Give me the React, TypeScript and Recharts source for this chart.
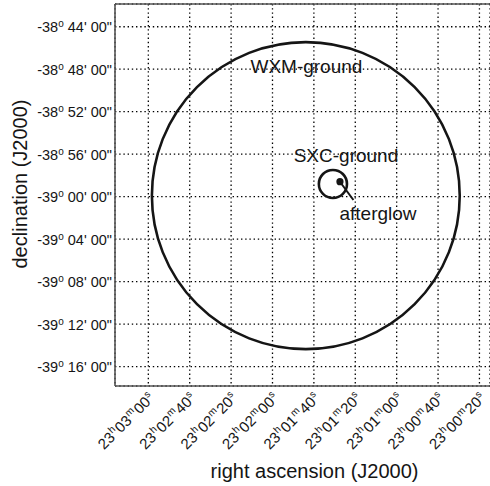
import { ComposedChart, Scatter, XAxis, YAxis, CartesianGrid, ReferenceArea, ReferenceDot, ReferenceLine, Label } from 'recharts';

// x: right ascension, seconds after 23h00m00s; y: declination, arcmin from -39°00'00"
const raTicks = [180, 160, 140, 120, 100, 80, 60, 40, 20];
const decTicks = [16, 12, 8, 4, 0, -4, -8, -12, -16];
const raDomain = [14.9, 196.1];
const decDomain = [-17.82, 18.14];

// error circles (centre and radius in arcmin)
const circleNames = ['WXM-ground', 'SXC-ground'];
const circleRa = [103.9, 90.8];
const circleDec = [0.1, 1.2];
const circleRadius = [14.45, 1.32];

// afterglow position
const afterglowRa = [87.4];
const afterglowDec = [1.41];

const FONT = '"Liberation Sans", Arial, Helvetica, sans-serif';
const INK = '#151515';
const COS_DEC = Math.cos((39 * Math.PI) / 180);

const afterglow = afterglowRa.map((ra, i) => ({ ra, dec: afterglowDec[i] }));

// text annotations, in data units
const labelSpots = [
  { text: 'WXM-ground', ra: 103.6, dec: 12.3 },
  { text: 'SXC-ground', ra: 84.5, dec: 3.92 },
  { text: 'afterglow', ra: 69.0, dec: -1.53 },
];
const leader = [{ x: 87.4, y: 1.41 }, { x: 80.9, y: -0.31 }];

const pad = (n: number) => String(n).padStart(2, '0');

const RaTick = (props: any) => {
  const { x, y, payload } = props;
  const v = payload.value;
  const m = Math.floor(v / 60);
  const s = v % 60;
  return (
    <g transform={`translate(${x + 7},${y + 5}) rotate(-45)`}>
      <text textAnchor="end" fontSize={15} fontFamily={FONT} fill={INK}>
        23<tspan fontSize={10} dy={-6} dx={0.5}>h</tspan>
        <tspan dy={6} dx={1}>{pad(m)}</tspan>
        <tspan fontSize={10} dy={-6} dx={0.5}>m</tspan>
        <tspan dy={6} dx={1}>{pad(s)}</tspan>
        <tspan fontSize={10} dy={-6} dx={0.5}>s</tspan>
      </text>
    </g>
  );
};

const DecTick = (props: any) => {
  const { x, y, payload } = props;
  const total = -39 * 60 + payload.value;
  const sign = total < 0 ? '-' : '';
  const a = Math.abs(total);
  const deg = Math.floor(a / 60);
  const min = a % 60;
  return (
    <text x={x + 5} y={y} dy="0.38em" textAnchor="end" fontSize={14.5} fontFamily={FONT} fill={INK}>
      {sign}{deg}<tspan fontSize={10} dy={-5}>o</tspan>
      <tspan dy={5}> {pad(min)}' 00"</tspan>
    </text>
  );
};

const Ring = (props: any) => {
  const { x, y, width, height } = props;
  const cx = x + width / 2;
  const cy = y + height / 2;
  return (
    <ellipse cx={cx} cy={cy} rx={Math.abs(width) / 2} ry={Math.abs(height) / 2}
      fill="none" stroke={INK} strokeWidth={2.6} />
  );
};

export default function App() {
  return (
    <div style={{ position: 'absolute', left: 0, top: 0, background: '#fff' }}>
      <ComposedChart width={490} height={486} margin={{ top: 4, right: 0, left: 0, bottom: 0 }}>
        <CartesianGrid stroke="#000" strokeDasharray="1.4 2.8" strokeWidth={1.3} />
        <XAxis
          type="number"
          dataKey="ra"
          domain={raDomain}
          reversed
          allowDataOverflow
          ticks={raTicks}
          interval={0}
          height={100}
          tickLine={false}
          axisLine={{ stroke: '#555', strokeWidth: 1.6 }}
          tick={<RaTick />}
        >
          <Label
            content={({ viewBox }: any) => (
              <text x={viewBox.x + viewBox.width / 2 + 12} y={viewBox.y + viewBox.height - 8}
                textAnchor="middle" fontSize={20} fontFamily={FONT} fill={INK}>
                right ascension (J2000)
              </text>
            )}
          />
        </XAxis>
        <YAxis
          type="number"
          dataKey="dec"
          domain={decDomain}
          allowDataOverflow
          ticks={decTicks}
          interval={0}
          width={115}
          tickLine={false}
          axisLine={{ stroke: '#555', strokeWidth: 1.6 }}
          tick={<DecTick />}
        >
          <Label
            content={() => (
              <text x={27} y={184} transform="rotate(-90, 27, 184)"
                textAnchor="middle" fontSize={20} fontFamily={FONT} fill={INK}>
                declination (J2000)
              </text>
            )}
          />
        </YAxis>
        <ReferenceLine y={decDomain[1]} stroke="#555" strokeWidth={1.6} ifOverflow="visible" />
        {circleNames.map((name, i) => (
          <ReferenceArea
            key={name}
            x1={circleRa[i] - (circleRadius[i] * 4) / COS_DEC}
            x2={circleRa[i] + (circleRadius[i] * 4) / COS_DEC}
            y1={circleDec[i] - circleRadius[i]}
            y2={circleDec[i] + circleRadius[i]}
            ifOverflow="visible"
            shape={<Ring />}
          />
        ))}
        <ReferenceLine segment={leader} stroke={INK} strokeWidth={2} ifOverflow="visible" />
        <Scatter
          data={afterglow}
          fill={INK}
          isAnimationActive={false}
          shape={(p: any) => <circle cx={p.cx} cy={p.cy} r={3.6} fill={INK} />}
        />
        {labelSpots.map((l) => (
          <ReferenceDot key={l.text} x={l.ra} y={l.dec} r={0} fill="none" stroke="none" ifOverflow="visible"
            label={{ value: l.text, position: 'center', fontSize: 19, fontFamily: FONT, fill: INK }} />
        ))}
      </ComposedChart>
    </div>
  );
}
